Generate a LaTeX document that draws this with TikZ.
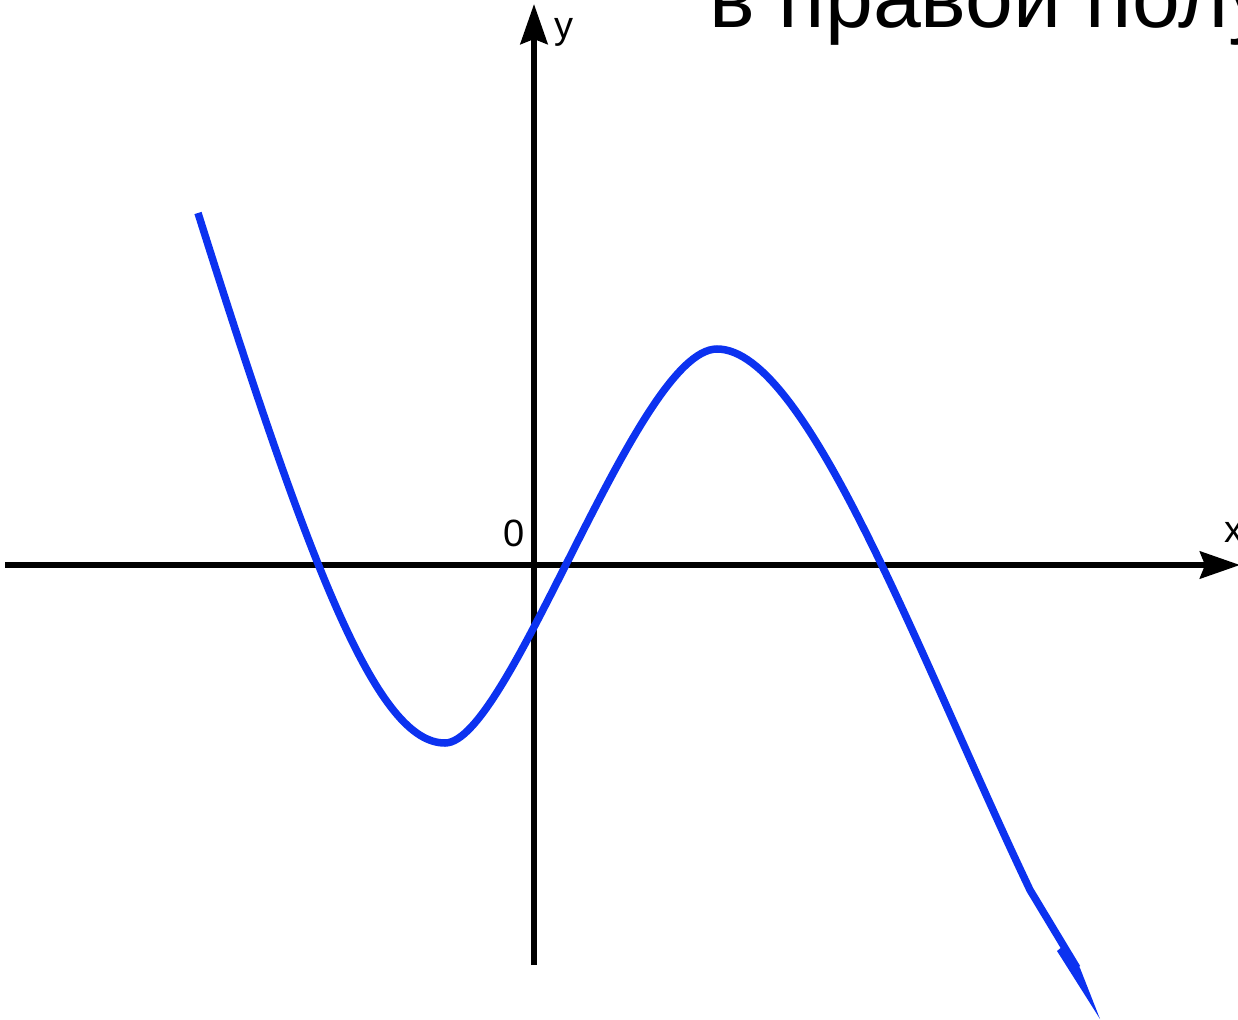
\documentclass[tikz,border=0pt]{standalone}
\usepackage{fontspec}
\setmainfont{Liberation Sans}
\usetikzlibrary{arrows.meta}
\definecolor{curveblue}{RGB}{12,50,240}
\begin{document}
\begin{tikzpicture}[x=1pt,y=-1pt,
  axis/.style={line width=6pt,black,-{Stealth[length=40pt,width=27pt,inset=5pt]}},
  graph/.style={line width=7.5pt,curveblue},
  lbl/.style={inner sep=0pt,font=\fontsize{38}{38}\selectfont}]
\useasboundingbox (0,0) rectangle (1238,1019);
\coordinate (xs) at (5,565);
\coordinate (xe) at (1240,565);
\coordinate (ys) at (534,965);
\coordinate (ye) at (534,4);
\draw[axis] (xs) -- (xe);
\draw[axis] (ys) -- (ye);
\node[lbl,anchor=center] (ylab) at (564,32) {y};
\node[lbl,anchor=center] (xlab) at (1234,532) {x};
\node[lbl,anchor=center] (zero) at (514,533) {0};
\node[inner sep=0pt,anchor=base west,font=\fontsize{86}{86}\selectfont] (title) at (709,28) {в правой полу};
\coordinate (p0) at (198,213);
\coordinate (pmin) at (445,743);
\coordinate (pmax) at (717,349);
\coordinate (pk) at (1030,890);
\coordinate (pe) at (1077,968);
\draw[graph] (p0) .. controls (312,575) and (378,743) .. (pmin)
  .. controls (510,743) and (637,349) .. (pmax)
  .. controls (807,349) and (920,659) .. (pk) -- (pe);
\fill[curveblue] (1057,951) -- (1063,946) -- (1080,968) -- (1100,1019) -- cycle;
\end{tikzpicture}
\end{document}
